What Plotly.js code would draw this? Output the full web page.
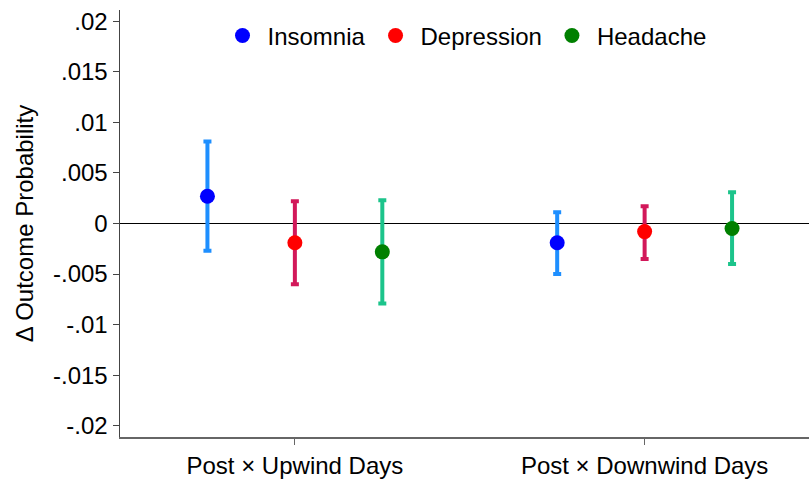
<!DOCTYPE html>
<html>
<head>
<meta charset="utf-8">
<script src="https://cdn.plot.ly/plotly-3.0.1.min.js"></script>
<style>html,body{margin:0;padding:0;background:#fff;}#chart{width:809px;height:479px;}</style>
</head>
<body>
<div id="chart"></div>
<script>
var groups = ["Post × Upwind Days", "Post × Downwind Days"];
var groupPos = [1, 2];
var seriesNames = ["Insomnia", "Depression", "Headache"];
var offsets = [-0.25, 0, 0.25];
var estimates = [
  [0.0027, -0.0019],
  [-0.0019, -0.0008],
  [-0.0028, -0.0005]
];
var upper = [
  [0.0081, 0.0011],
  [0.0022, 0.0017],
  [0.0023, 0.0031]
];
var lower = [
  [-0.0027, -0.0050],
  [-0.0060, -0.0035],
  [-0.0079, -0.0040]
];
var markerColors = ["#0000ff", "#ff0000", "#008000"];
var barColors = ["#1e8fff", "#d2185a", "#1cc48b"];
var yTickVals = [0.02, 0.015, 0.01, 0.005, 0, -0.005, -0.01, -0.015, -0.02];
var yTickText = [".02", ".015", ".01", ".005", "0", "-.005", "-.01", "-.015", "-.02"];

var traces = seriesNames.map(function(name, i) {
  var xs = groupPos.map(function(g){ return g + offsets[i]; });
  return {
    type: "scatter",
    mode: "markers",
    name: name,
    x: xs,
    y: estimates[i],
    marker: {color: markerColors[i], size: 15},
    error_y: {
      type: "data",
      symmetric: false,
      array: estimates[i].map(function(v, j){ return upper[i][j] - v; }),
      arrayminus: estimates[i].map(function(v, j){ return v - lower[i][j]; }),
      color: barColors[i],
      thickness: 4,
      width: 4
    }
  };
});

var layout = {
  width: 809,
  height: 479,
  margin: {l: 120, r: 0, t: 10, b: 42},
  paper_bgcolor: "#ffffff",
  plot_bgcolor: "#ffffff",
  font: {family: "Liberation Sans, Arial, sans-serif", size: 24, color: "#000"},
  showlegend: true,
  legend: {
    orientation: "h",
    x: 0.5, xanchor: "center",
    y: 0.992, yanchor: "top",
    font: {size: 24},
    bgcolor: "rgba(0,0,0,0)",
    itemwidth: 40,
    tracegroupgap: 0
  },
  xaxis: {
    range: [0.5, 2.47],
    tickvals: groupPos,
    ticktext: groups,
    ticks: "outside",
    ticklen: 6,
    tickcolor: "#666",
    showline: true,
    linecolor: "#666",
    linewidth: 2,
    showgrid: false,
    zeroline: false,
    tickfont: {size: 24}
  },
  yaxis: {
    range: [-0.0211, 0.0211],
    tickvals: yTickVals,
    ticktext: yTickText,
    ticks: "outside",
    ticklen: 6,
    tickcolor: "#444",
    showline: true,
    linecolor: "#444",
    linewidth: 1.5,
    showgrid: false,
    zeroline: true,
    zerolinecolor: "#000",
    zerolinewidth: 1.5,
    tickfont: {size: 24},
    title: {text: "Δ Outcome Probability", font: {size: 24}, standoff: 12}
  }
};

Plotly.newPlot("chart", traces, layout, {displayModeBar: false, staticPlot: true});
</script>
</body>
</html>
